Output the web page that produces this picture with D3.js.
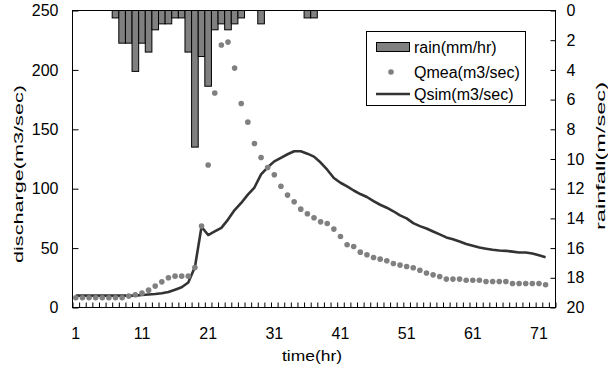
<!DOCTYPE html>
<html>
<head>
<meta charset="utf-8">
<script src="https://d3js.org/d3.v7.min.js"></script>
<style>
  html, body { margin: 0; padding: 0; background: #fff; }
  svg { display: block; }
  text { font-family: "Liberation Sans", Arial, sans-serif; fill: #000; }
</style>
</head>
<body>
<svg id="chart" width="608" height="372"></svg>
<script>
// Hourly categories (the last slot is left empty on the axis)
const hours = d3.range(1, 74);
const hourTicks = [1, 11, 21, 31, 41, 51, 61, 71];

// Rainfall (mm/hr), hours 1..72
const rain = [
  0, 0, 0, 0, 0, 0, 0.5, 2.2, 2.2, 4.1,
  2.2, 2.8, 1.3, 0.9, 0.9, 0.5, 0.5, 2.8, 9.2, 3.1,
  5.1, 1.3, 0.9, 1.3, 0.9, 0.5, 0, 0, 0.9, 0,
  0, 0, 0, 0, 0, 0.5, 0.5, 0, 0, 0,
  0, 0, 0, 0, 0, 0, 0, 0, 0, 0,
  0, 0, 0, 0, 0, 0, 0, 0, 0, 0,
  0, 0, 0, 0, 0, 0, 0, 0, 0, 0,
  0, 0
];

// Measured discharge (m3/sec)
const qmea = [
  8.2, 8.2, 8.2, 8.2, 8.2, 8.2, 8.2, 8.2, 9.6, 10.7,
  12.1, 14.6, 18, 21.6, 25, 26.4, 26.4, 26.4, 33.7, 68.5,
  120, 180.5, 221, 223.4, 201.5, 171.7, 156, 138, 126.3, 117.8,
  111.7, 102, 94.6, 89, 82.8, 78.9, 75.5, 72.1, 70.7, 66,
  59.8, 52.8, 51.3, 46.6, 44.4, 42.1, 40.7, 39.3, 37, 35.7,
  34.5, 33.5, 31.3, 29, 27.5, 26.1, 23.9, 23.9, 23.9, 23,
  23, 23, 21.9, 21.9, 21.9, 21.9, 20.2, 20.2, 20.2, 20.2,
  20.2, 19.1
];

// Simulated discharge (m3/sec)
const qsim = [
  10, 10, 10, 10, 10, 10, 10, 10, 10, 10,
  10.5, 11, 11.3, 12, 13, 15, 17, 21, 34, 68,
  61, 64, 67, 74, 82, 88, 95, 101, 112, 118,
  123, 126, 129, 131.5, 131.5, 129.5, 127, 122, 116, 109,
  105, 102, 98.5, 95.5, 93, 89.5, 86.5, 84, 81, 77.5,
  75, 71, 68.5, 66.5, 64, 61.5, 59, 57.5, 55.6, 53.5,
  52, 50.5, 49.5, 48.6, 48, 47.7, 47, 46.3, 46.3, 45.5,
  44, 42.4
];

const dischargeTicks = [0, 50, 100, 150, 200, 250];
const rainTicks = [0, 2, 4, 6, 8, 10, 12, 14, 16, 18, 20];

const legendItems = ["rain(mm/hr)", "Qmea(m3/sec)", "Qsim(m3/sec)"];

// ---- layout ----
const plot = { left: 72.5, right: 555.5, top: 10.5, bottom: 307.5 };
const fontSize = 16;
const titleSize = 13;

const svg = d3.select("#chart");

const x = d3.scaleBand().domain(hours).range([plot.left, plot.right]).padding(0);
const xEdge = d3.scaleLinear().domain([0.5, hours.length + 0.5]).range([plot.left, plot.right]);
const yL = d3.scaleLinear().domain([0, 250]).range([plot.bottom, plot.top]);
const yR = d3.scaleLinear().domain([0, 20]).range([plot.top, plot.bottom]);
const cx = h => x(h) + x.bandwidth() / 2;

const rows = qmea.map((v, i) => ({ h: hours[i], rain: rain[i], qmea: v, qsim: qsim[i] }));

// rainfall bars hanging from the top
svg.append("g")
  .selectAll("rect")
  .data(rows.filter(d => d.rain > 0))
  .join("rect")
  .attr("x", d => x(d.h))
  .attr("y", yR(0))
  .attr("width", x.bandwidth())
  .attr("height", d => yR(d.rain) - yR(0))
  .attr("fill", "#808080")
  .attr("stroke", "#000")
  .attr("stroke-width", 1);

// frame
svg.append("rect")
  .attr("x", plot.left).attr("y", plot.top)
  .attr("width", plot.right - plot.left).attr("height", plot.bottom - plot.top)
  .attr("fill", "none").attr("stroke", "#000").attr("stroke-width", 1);

// simulated discharge line
svg.append("path")
  .datum(rows)
  .attr("fill", "none")
  .attr("stroke", "#333")
  .attr("stroke-width", 2.6)
  .attr("stroke-linejoin", "round")
  .attr("d", d3.line().x(d => cx(d.h)).y(d => yL(d.qsim)));

// measured discharge points
svg.append("g")
  .selectAll("circle")
  .data(rows)
  .join("circle")
  .attr("cx", d => cx(d.h))
  .attr("cy", d => yL(d.qmea))
  .attr("r", 2.8)
  .attr("fill", "#808080");

// axes
function styleAxis(g) {
  g.select(".domain").remove();
  g.selectAll(".tick line").attr("stroke", "#000");
  g.selectAll(".tick text").attr("font-size", fontSize).attr("fill", "#000")
    .attr("font-family", "Liberation Sans, Arial, sans-serif");
}

svg.append("g")
  .attr("transform", `translate(${plot.left},0)`)
  .call(d3.axisLeft(yL).tickValues(dischargeTicks).tickSize(-6).tickPadding(14))
  .call(styleAxis);

svg.append("g")
  .attr("transform", `translate(${plot.right},0)`)
  .call(d3.axisRight(yR).tickValues(rainTicks).tickSize(-5).tickPadding(11))
  .call(styleAxis);

svg.append("g")
  .attr("transform", `translate(0,${plot.bottom})`)
  .call(d3.axisBottom(xEdge).tickValues(d3.range(0.5, hours.length + 1, 1)).tickSize(-5).tickFormat(""))
  .call(styleAxis);

svg.append("g")
  .attr("transform", `translate(0,${plot.bottom})`)
  .call(d3.axisBottom(x).tickValues(hourTicks).tickSize(0).tickPadding(20))
  .call(styleAxis);

// axis titles
svg.append("text")
  .attr("x", 312).attr("y", 361)
  .attr("text-anchor", "middle")
  .attr("font-size", 15)
  .attr("textLength", 60).attr("lengthAdjust", "spacingAndGlyphs")
  .text("time(hr)");

svg.append("text")
  .attr("transform", "translate(23,174) rotate(-90)")
  .attr("text-anchor", "middle")
  .attr("font-size", titleSize)
  .attr("textLength", 178).attr("lengthAdjust", "spacingAndGlyphs")
  .text("discharge(m3/sec)");

svg.append("text")
  .attr("transform", "translate(605,156) rotate(-90)")
  .attr("text-anchor", "middle")
  .attr("font-size", titleSize)
  .attr("textLength", 148).attr("lengthAdjust", "spacingAndGlyphs")
  .text("rainfall(m/sec)");

// legend
const lg = svg.append("g");
lg.append("rect")
  .attr("x", 366.5).attr("y", 31.5).attr("width", 159).attr("height", 74)
  .attr("fill", "#fff").attr("stroke", "#000").attr("stroke-width", 1);

const rowY = [47, 72, 94];
lg.append("rect")
  .attr("x", 376.5).attr("y", rowY[0] - 4.5).attr("width", 33).attr("height", 9)
  .attr("fill", "#808080").attr("stroke", "#000");
lg.append("circle")
  .attr("cx", 391).attr("cy", rowY[1]).attr("r", 2.8).attr("fill", "#808080");
lg.append("line")
  .attr("x1", 376).attr("x2", 410).attr("y1", rowY[2]).attr("y2", rowY[2])
  .attr("stroke", "#333").attr("stroke-width", 2.6);

lg.selectAll("text.lab")
  .data(legendItems)
  .join("text")
  .attr("class", "lab")
  .attr("x", 414)
  .attr("y", (d, i) => rowY[i])
  .attr("dy", "0.36em")
  .attr("font-size", fontSize)
  .text(d => d);
</script>
</body>
</html>
